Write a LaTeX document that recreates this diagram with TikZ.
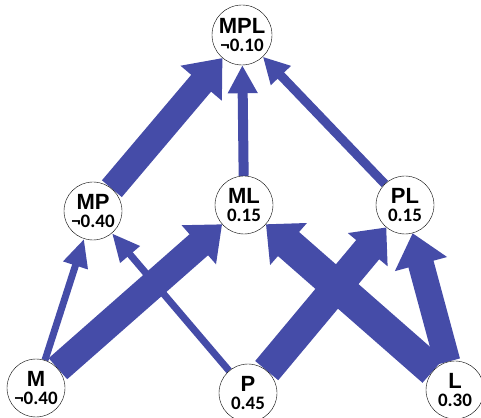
\documentclass[tikz,border=0pt]{standalone}
\usepackage{fontspec}
\setmainfont{Liberation Sans}
\newfontfamily\valfont{Carlito}
\usetikzlibrary{arrows.meta,backgrounds}

\definecolor{flowblue}{RGB}{69,76,168}
\newcommand{\varname}[1]{{\fontsize{22}{22}\selectfont\bfseries #1}}
\newcommand{\varval}[1]{{\valfont\fontsize{19}{19}\selectfont\bfseries #1}}

\tikzset{
  var/.style={circle, draw, thin, fill=white, minimum size=58pt, inner sep=0pt, align=center,
    font=\fontsize{17}{18.5}\selectfont},
  flow/.style n args={3}{draw=flowblue, line width=#1pt, -{Triangle[width=#2pt, length=#3pt]}},
}

\begin{document}
\begin{tikzpicture}[x=1pt, y=1pt]
        \useasboundingbox (0,0) rectangle (481,417);
        % variables
        \node[var, minimum size=60pt] (mpl) at (242,382) {\varname{MPL}\\\varval{¬0.10}};
        \node[var] (mp) at (93,206) {\varname{MP}\\\varval{¬0.40}};
        \node[var] (ml) at (244,212) {\varname{ML}\\\varval{0.15}};
        \node[var] (pl) at (405,212) {\varname{PL}\\\varval{0.15}};
        \node[var] (m) at (36,29) {\varname{M}\\\varval{¬0.40}};
        \node[var] (p) at (248,24) {\varname{P}\\\varval{0.45}};
        \node[var] (l) at (455,27) {\varname{L}\\\varval{0.30}};
        % flows
        \begin{scope}[on background layer]
        \draw[flow={26}{52}{33}] (mp) -- (mpl);
        \draw[flow={10}{28}{28}] (ml) -- (mpl);
        \draw[flow={9}{26}{26}] (pl) -- (mpl);
        \draw[flow={7}{24}{28}] (m) -- (mp);
        \draw[flow={7}{24}{28}] (p) -- (mp);
        \draw[flow={28}{50}{31}] (m) -- (ml);
        \draw[flow={30}{50}{29}] (p) -- (pl);
        \draw[flow={32}{54}{30}] (l) -- (ml);
        \draw[flow={26}{52}{32}] (l) -- (pl);
        \end{scope}
    \end{tikzpicture}
\end{document}
